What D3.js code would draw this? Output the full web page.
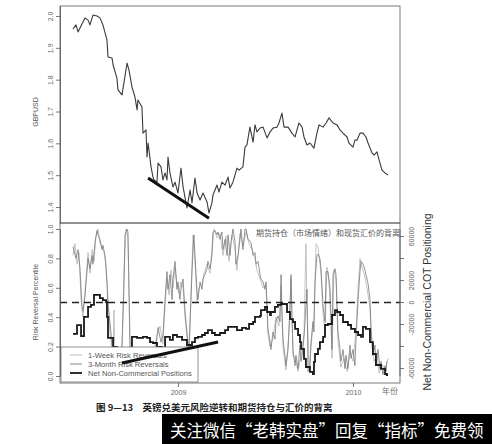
<!DOCTYPE html>
<html><head><meta charset="utf-8">
<script src="https://cdn.jsdelivr.net/npm/d3@7"></script>
<style>body{margin:0;background:#fff}svg{display:block}</style>
</head><body>
<script>
// ---------- DATA (time as decimal years) ----------
const gbpT = [2008.400,2008.417,2008.429,2008.451,2008.469,2008.486,2008.497,2008.514,2008.537,2008.554,2008.571,2008.594,2008.600,2008.623,2008.629,2008.651,2008.657,2008.680,2008.691,2008.709,2008.720,2008.737,2008.754,2008.766,2008.771,2008.794,2008.800,2008.817,2008.823,2008.829,2008.846,2008.857,2008.863,2008.880,2008.886,2008.903,2008.914,2008.926,2008.937,2008.943,2008.954,2008.971,2008.983,2009.000,2009.017,2009.029,2009.051,2009.069,2009.080,2009.097,2009.109,2009.126,2009.143,2009.166,2009.177,2009.194,2009.200,2009.223,2009.234,2009.251,2009.269,2009.286,2009.297,2009.314,2009.337,2009.349,2009.371,2009.383,2009.394,2009.411,2009.429,2009.440,2009.451,2009.469,2009.486,2009.509,2009.526,2009.543,2009.566,2009.577,2009.594,2009.606,2009.629,2009.651,2009.669,2009.691,2009.709,2009.720,2009.737,2009.754,2009.777,2009.794,2009.806,2009.829,2009.846,2009.863,2009.886,2009.909,2009.926,2009.943,2009.966,2009.977,2010.000,2010.011,2010.023,2010.040,2010.057,2010.074,2010.086,2010.109,2010.120,2010.137,2010.149,2010.166,2010.183,2010.200];
const gbpV = [1.959,1.972,1.950,1.975,1.994,1.987,1.972,2.003,2.000,1.994,1.972,1.925,1.871,1.868,1.846,1.805,1.768,1.752,1.790,1.852,1.830,1.777,1.746,1.705,1.736,1.714,1.632,1.642,1.557,1.601,1.526,1.494,1.485,1.478,1.538,1.526,1.485,1.507,1.485,1.557,1.507,1.463,1.478,1.444,1.522,1.463,1.397,1.453,1.413,1.491,1.444,1.422,1.444,1.416,1.381,1.413,1.438,1.469,1.447,1.478,1.469,1.494,1.460,1.478,1.522,1.516,1.526,1.588,1.595,1.651,1.604,1.658,1.636,1.648,1.651,1.617,1.636,1.648,1.651,1.664,1.695,1.651,1.651,1.632,1.620,1.664,1.651,1.620,1.595,1.601,1.585,1.632,1.658,1.651,1.664,1.680,1.664,1.658,1.642,1.632,1.620,1.601,1.588,1.610,1.610,1.632,1.632,1.620,1.601,1.570,1.563,1.573,1.548,1.516,1.507,1.500];
const gbpTrendT = [2008.829, 2009.177];
const gbpTrendV = [1.491, 1.365];

const rr3mT = [2008.400,2008.417,2008.429,2008.440,2008.446,2008.451,2008.457,2008.469,2008.480,2008.486,2008.497,2008.509,2008.514,2008.526,2008.537,2008.543,2008.554,2008.566,2008.571,2008.583,2008.594,2008.600,2008.611,2008.623,2008.634,2008.657,2008.680,2008.691,2008.697,2008.709,2008.714,2008.726,2008.737,2008.783,2008.840,2008.869,2008.886,2008.903,2008.914,2008.926,2008.937,2008.943,2008.954,2008.966,2008.971,2008.983,2008.994,2009.000,2009.011,2009.017,2009.029,2009.040,2009.051,2009.063,2009.080,2009.086,2009.091,2009.097,2009.109,2009.114,2009.126,2009.137,2009.143,2009.154,2009.166,2009.171,2009.183,2009.194,2009.200,2009.211,2009.223,2009.229,2009.240,2009.251,2009.257,2009.269,2009.280,2009.286,2009.297,2009.303,2009.314,2009.326,2009.331,2009.343,2009.354,2009.360,2009.371,2009.383,2009.389,2009.400,2009.417,2009.429,2009.440,2009.446,2009.457,2009.469,2009.474,2009.486,2009.497,2009.503,2009.509,2009.514,2009.526,2009.531,2009.543,2009.554,2009.560,2009.571,2009.583,2009.589,2009.594,2009.600,2009.611,2009.617,2009.629,2009.640,2009.646,2009.651,2009.657,2009.669,2009.674,2009.686,2009.697,2009.703,2009.714,2009.726,2009.731,2009.737,2009.743,2009.754,2009.760,2009.771,2009.777,2009.783,2009.794,2009.800,2009.811,2009.817,2009.829,2009.840,2009.846,2009.857,2009.869,2009.874,2009.880,2009.886,2009.897,2009.903,2009.909,2009.914,2009.926,2009.931,2009.943,2009.954,2009.960,2009.971,2009.983,2009.989,2010.000,2010.011,2010.017,2010.029,2010.040,2010.046,2010.057,2010.069,2010.074,2010.086,2010.097,2010.103,2010.114,2010.126,2010.131,2010.143,2010.154,2010.160,2010.171,2010.183,2010.189,2010.194];
const rr3mV = [0.88,0.80,0.86,0.73,0.59,0.48,0.44,0.55,0.71,0.80,0.73,0.82,0.76,0.91,0.99,0.96,0.93,0.86,0.89,0.82,0.64,0.48,0.37,0.21,0.12,0.08,0.21,0.60,0.96,1.00,0.98,0.21,0.08,0.10,0.06,0.15,0.33,0.23,0.28,0.52,0.71,0.59,0.69,0.52,0.66,0.78,0.59,0.64,0.52,0.59,0.66,0.44,0.30,0.18,0.71,0.86,0.96,0.82,0.57,0.52,0.64,0.59,0.66,0.69,0.73,0.78,0.73,0.82,0.98,0.99,0.96,0.98,0.93,0.98,0.86,0.93,0.82,0.96,0.82,0.91,1.00,0.91,0.76,0.82,0.93,1.00,0.86,1.00,1.00,0.93,0.91,0.82,0.84,0.76,0.78,0.69,0.66,0.64,0.59,0.64,0.48,0.32,0.23,0.18,0.30,0.25,0.37,0.41,0.37,0.69,0.44,0.25,0.14,0.07,0.18,0.46,0.69,0.41,0.18,0.07,0.14,0.05,0.21,0.10,0.18,0.37,0.48,0.59,0.03,0.05,0.23,0.37,0.30,0.64,0.82,0.83,0.80,0.73,0.48,0.37,0.71,0.71,0.59,0.41,0.18,0.69,0.73,0.69,0.48,0.30,0.18,0.10,0.18,0.05,0.14,0.05,0.21,0.12,0.18,0.07,0.25,0.52,0.71,0.78,0.76,0.72,0.69,0.63,0.52,0.32,0.14,0.21,0.07,0.18,0.05,0.10,0.01,0.07,0.03,0.10];

const rr1wT = [2008.400,2008.411,2008.423,2008.434,2008.446,2008.457,2008.463,2008.474,2008.486,2008.497,2008.509,2008.520,2008.531,2008.543,2008.554,2008.566,2008.577,2008.589,2008.600,2008.611,2008.623,2008.629,2008.634,2008.640,2008.657,2008.680,2008.691,2008.703,2008.714,2008.726,2008.737,2008.800,2008.857,2008.880,2008.897,2008.914,2008.926,2008.937,2008.949,2008.960,2008.971,2008.983,2008.994,2009.006,2009.017,2009.029,2009.040,2009.051,2009.063,2009.074,2009.086,2009.097,2009.109,2009.120,2009.137,2009.149,2009.166,2009.183,2009.194,2009.206,2009.223,2009.240,2009.257,2009.274,2009.291,2009.309,2009.326,2009.337,2009.354,2009.371,2009.389,2009.406,2009.423,2009.440,2009.451,2009.469,2009.486,2009.503,2009.514,2009.526,2009.543,2009.560,2009.577,2009.589,2009.600,2009.617,2009.634,2009.646,2009.657,2009.674,2009.686,2009.703,2009.720,2009.731,2009.737,2009.749,2009.760,2009.777,2009.789,2009.800,2009.817,2009.829,2009.840,2009.851,2009.863,2009.874,2009.880,2009.891,2009.903,2009.914,2009.931,2009.949,2009.966,2009.983,2010.000,2010.017,2010.029,2010.040,2010.051,2010.063,2010.080,2010.097,2010.109,2010.120,2010.137,2010.149,2010.166,2010.183,2010.200];
const rr1wV = [0.82,0.90,0.76,0.84,0.52,0.40,0.50,0.66,0.84,0.70,0.86,0.78,0.95,1.00,0.90,0.88,0.84,0.76,0.52,0.30,0.18,0.10,0.45,0.10,0.06,0.18,0.70,1.00,0.94,0.15,0.05,0.08,0.12,0.28,0.34,0.22,0.48,0.66,0.55,0.72,0.60,0.74,0.62,0.56,0.64,0.60,0.40,0.26,0.12,0.55,0.96,0.78,0.50,0.60,0.62,0.70,0.76,0.70,0.86,1.00,0.94,0.97,0.82,0.95,0.78,0.96,0.86,0.72,0.97,0.88,0.98,0.90,0.86,0.80,0.72,0.66,0.60,0.62,0.28,0.20,0.26,0.40,0.34,0.62,0.20,0.04,0.30,0.66,0.14,0.10,0.03,0.14,0.28,0.90,0.50,0.04,0.20,0.40,0.90,0.88,0.70,0.42,0.30,0.74,0.64,0.36,0.12,0.72,0.66,0.24,0.06,0.12,0.03,0.16,0.10,0.30,0.60,0.80,0.74,0.70,0.60,0.46,0.20,0.10,0.14,0.02,0.08,0.04,0.12];

const ncT = [2008.400,2008.423,2008.446,2008.463,2008.486,2008.503,2008.520,2008.554,2008.571,2008.589,2008.594,2008.600,2008.629,2008.651,2008.691,2008.714,2008.737,2008.766,2008.800,2008.823,2008.840,2008.857,2008.880,2008.909,2008.926,2008.954,2008.971,2008.994,2009.023,2009.051,2009.080,2009.097,2009.114,2009.137,2009.154,2009.171,2009.194,2009.211,2009.240,2009.269,2009.286,2009.314,2009.337,2009.366,2009.389,2009.406,2009.429,2009.440,2009.469,2009.474,2009.497,2009.509,2009.526,2009.531,2009.554,2009.571,2009.589,2009.611,2009.623,2009.640,2009.657,2009.669,2009.686,2009.697,2009.703,2009.720,2009.731,2009.754,2009.771,2009.777,2009.783,2009.800,2009.811,2009.829,2009.840,2009.857,2009.880,2009.897,2009.909,2009.926,2009.943,2009.971,2009.989,2010.011,2010.029,2010.046,2010.057,2010.074,2010.097,2010.114,2010.131,2010.160,2010.183,2010.194,2010.200];
const ncV = [-29000,-21000,-31000,-13600,-4500,-2700,6400,3600,1800,0,-13600,-32700,-40900,-48000,-52000,-50000,-31800,-32700,-31800,-32700,-36400,-37300,-40900,-43600,-31800,-34500,-30000,-31800,-34500,-39100,-36400,-32700,-31800,-30000,-28200,-25500,-28200,-30000,-28200,-25500,-22700,-22700,-25500,-23600,-24500,-20000,-18200,-13600,-12700,-7300,-4500,-9100,-11800,-9100,-4500,-2700,-1800,-1800,-9100,-15500,-18200,-24500,-30000,-36400,-42700,-51800,-59100,-63600,-65500,-54500,-47300,-42700,-36400,-31800,-20900,-20000,-11800,-7300,-9100,-11800,-18200,-20900,-24500,-27300,-30000,-31800,-22700,-24500,-36400,-47300,-57300,-60900,-65500,-66400,-66400];

const rrTrendT = [2008.680, 2009.229];
const rrTrendV = [0.088, 0.231];

const gbpTicks = [1.4,1.5,1.6,1.7,1.8,1.9,2.0];
const rrTicks = [0,0.2,0.4,0.6,0.8,1.0];
const ncTicks = [-60000,-40000,-20000,0,20000,40000,60000];
const ncLabelled = [-60000,-20000,0,20000,60000];
const yearTicks = [2009, 2010];
const legendLabels = ["1-Week Risk Reversals","3-Month Risk Reversals","Net Non-Commercial Positions"];
const annotation = "期货持仓（市场情绪）和现货汇价的背离";
const caption = "图 9—13　英镑兑美元风险逆转和期货持仓与汇价的背离";
const banner = "关注微信“老韩实盘”回复“指标”免费领";

// ---------- DRAW ----------
const W = 492, H = 444;
const L = 60, R = 400, T1 = 6, B1 = 223, T2 = 223, B2 = 383;
const svg = d3.select("body").append("svg").attr("width", W).attr("height", H)
  .style("font-family", "'Liberation Sans', Arial, sans-serif");

const x = d3.scaleLinear().domain([2008.3257, 2010.2686]).range([L, R]);
const yG = d3.scaleLinear().domain([1.3498, 2.0314]).range([B1, T1]);
const yR = d3.scaleLinear().domain([0, 1]).range([376, 229]);
const yN = d3.scaleLinear().domain([-67300, 66400]).range([376, 229]);

const defs = svg.append("defs");
defs.append("clipPath").attr("id","c1").append("rect").attr("x",L).attr("y",T1).attr("width",R-L).attr("height",B1-T1);
defs.append("clipPath").attr("id","c2").append("rect").attr("x",L).attr("y",T2).attr("width",R-L).attr("height",B2-T2);

const tickCol = "#666";
function styleAxis(g){
  g.selectAll("path.domain").attr("stroke","#555").attr("stroke-width",0.8);
  g.selectAll(".tick line").attr("stroke","#555").attr("stroke-width",0.8);
  g.selectAll("text").attr("fill",tickCol).attr("font-size",7).attr("font-family","'Liberation Sans', Arial, sans-serif");
}

// ---- top panel ----
const p1 = svg.append("g").attr("clip-path","url(#c1)");
const gbpData = gbpT.map((t,i)=>[t,gbpV[i]]);
p1.append("path").datum(gbpData)
  .attr("d", d3.line().x(d=>x(d[0])).y(d=>yG(d[1])))
  .attr("fill","none").attr("stroke","#3a3a3a").attr("stroke-width",1.1).attr("stroke-linejoin","round");
p1.append("path").datum(gbpTrendT.map((t,i)=>[t,gbpTrendV[i]]))
  .attr("d", d3.line().x(d=>x(d[0])).y(d=>yG(d[1])))
  .attr("stroke","#111").attr("stroke-width",3).attr("fill","none");

svg.append("rect").attr("x",L).attr("y",T1).attr("width",R-L).attr("height",B1-T1)
  .attr("fill","none").attr("stroke","#555").attr("stroke-width",0.8);

const axG = svg.append("g").attr("transform",`translate(${L},0)`)
  .call(d3.axisLeft(yG).tickValues(gbpTicks).tickSize(4).tickSizeOuter(0).tickFormat(d3.format(".1f")));
styleAxis(axG);
axG.selectAll(".tick text").attr("transform","rotate(-90)").attr("x",0).attr("y",-7).attr("dy",0).attr("text-anchor","middle");

svg.append("text").attr("transform","translate(38,112) rotate(-90)").attr("text-anchor","middle")
  .attr("font-size",7).attr("fill","#555").text("GBPUSD");

// ---- bottom panel ----
const p2 = svg.append("g").attr("clip-path","url(#c2)");
const lineR = d3.line().x(d=>x(d[0])).y(d=>yR(d[1]));
p2.append("path").datum(rr1wT.map((t,i)=>[t,rr1wV[i]])).attr("d", lineR)
  .attr("fill","none").attr("stroke","#b4b4b4").attr("stroke-width",0.8);
p2.append("path").datum(rr3mT.map((t,i)=>[t,rr3mV[i]])).attr("d", lineR)
  .attr("fill","none").attr("stroke","#7a7a7a").attr("stroke-width",0.8);
p2.append("path").datum(ncT.map((t,i)=>[t,ncV[i]]))
  .attr("d", d3.line().curve(d3.curveStepAfter).x(d=>x(d[0])).y(d=>yN(d[1])))
  .attr("fill","none").attr("stroke","#1a1a1a").attr("stroke-width",1.8);
p2.append("line").attr("x1",L).attr("x2",R).attr("y1",yR(0.5)).attr("y2",yR(0.5))
  .attr("stroke","#222").attr("stroke-width",1.4).attr("stroke-dasharray","7,5");

svg.append("rect").attr("x",L).attr("y",T2).attr("width",R-L).attr("height",B2-T2)
  .attr("fill","none").attr("stroke","#555").attr("stroke-width",0.8);

// legend
const lg = svg.append("g");
lg.append("rect").attr("x",61).attr("y",347).attr("width",137).attr("height",35)
  .attr("fill","#fff").attr("stroke","#777").attr("stroke-width",0.8);
const legCols = ["#b4b4b4","#7a7a7a","#1a1a1a"], legW = [0.9,0.9,1.8];
legendLabels.forEach((lab,i)=>{
  const yy = 355 + i*9;
  lg.append("line").attr("x1",70).attr("x2",82).attr("y1",yy).attr("y2",yy)
    .attr("stroke",legCols[i]).attr("stroke-width",legW[i]);
  lg.append("text").attr("x",88).attr("y",yy+2.8).attr("font-size",7.6).attr("fill","#555").text(lab);
});

// trend line bottom
svg.append("path").datum(rrTrendT.map((t,i)=>[t,rrTrendV[i]])).attr("d", lineR)
  .attr("stroke","#111").attr("stroke-width",3).attr("fill","none");

// axes bottom
const axR = svg.append("g").attr("transform",`translate(${L},0)`)
  .call(d3.axisLeft(yR).tickValues(rrTicks).tickSize(4).tickSizeOuter(0).tickFormat(d3.format(".1f")));
styleAxis(axR);
axR.selectAll(".tick text").attr("transform","rotate(-90)").attr("x",0).attr("y",-7).attr("dy",0).attr("text-anchor","middle");

const axN = svg.append("g").attr("transform",`translate(${R},0)`)
  .call(d3.axisRight(yN).tickValues(ncTicks).tickSize(4).tickSizeOuter(0)
    .tickFormat(d => ncLabelled.includes(d) ? String(d) : ""));
styleAxis(axN);
axN.select("path.domain").attr("d", `M0,${yN(-67300)}V${yN(66400)}`);
axN.selectAll(".tick text").attr("transform","rotate(-90)").attr("x",0).attr("y",14).attr("dy",0).attr("text-anchor","middle");

const axX = svg.append("g").attr("transform",`translate(0,${B2})`)
  .call(d3.axisBottom(x).tickValues(yearTicks).tickSize(4).tickSizeOuter(0).tickFormat(d3.format("d")));
styleAxis(axX);
axX.selectAll(".tick text").attr("y",7).attr("dy","0.71em");
axX.select("path.domain").attr("stroke","none");

svg.append("text").attr("x",390).attr("y",394).attr("text-anchor","middle")
  .attr("font-size",8).attr("fill","#777").attr("font-family","'Noto Sans CJK SC', sans-serif").text("年份");

svg.append("text").attr("transform","translate(38,302) rotate(-90)").attr("text-anchor","middle")
  .attr("font-size",7).attr("fill","#555").text("Risk Reversal Percentile");
svg.append("text").attr("transform","translate(431,302) rotate(-90)").attr("text-anchor","middle")
  .attr("font-size",10.5).attr("fill","#333").text("Net Non-Commercial COT Positioning");

// annotation
svg.append("text").attr("x",256).attr("y",236).attr("font-size",8)
  .attr("font-family","'Noto Sans CJK SC', sans-serif").attr("fill","#555").text(annotation);

// caption + banner
svg.append("text").attr("x",96).attr("y",411).attr("font-size",9.5).attr("font-weight","bold")
  .attr("font-family","'Noto Sans CJK SC', sans-serif").attr("fill","#222").text(caption);
svg.append("rect").attr("x",162).attr("y",414).attr("width",330).attr("height",30).attr("fill","#000");
svg.append("text").attr("x",170).attr("y",437).attr("font-size",16.5)
  .attr("font-family","'Noto Sans CJK SC', sans-serif").attr("fill","#fff").text(banner);
</script>
</body></html>
